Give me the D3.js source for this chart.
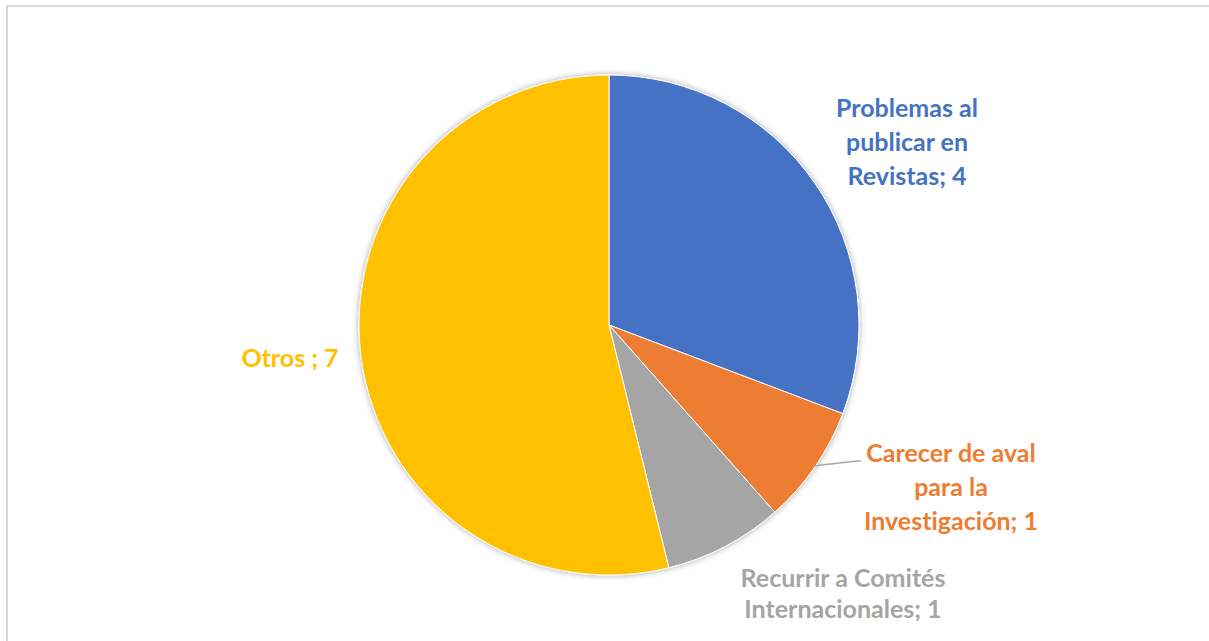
<!DOCTYPE html>
<html><head><meta charset="utf-8">
<script src="https://cdn.jsdelivr.net/npm/d3@7"></script>
<style>body{margin:0;background:#fff;} svg{display:block;} text{font-variant-ligatures:none;}</style>
</head><body>
<svg id="c" width="1209" height="641"></svg>
<script>
const categories = ["Problemas al publicar en Revistas", "Carecer de aval para la Investigación", "Recurrir a Comités Internacionales", "Otros "];
const values = [4, 1, 1, 7];
const colors = ["#4472C4", "#ED7D31", "#A5A5A5", "#FFC000"];
const labelLines = [
  ["Problemas al", "publicar en", "Revistas; 4"],
  ["Carecer de aval", "para la", "Investigación; 1"],
  ["Recurrir a Comités", "Internacionales; 1"],
  ["Otros ; 7"]
];
const labelPos = [[907, 108, 34], [951, 453, 34], [843, 578, 31], [290, 358, 34]];

const svg = d3.select("#c");
const defs = svg.append("defs");
const f = defs.append("filter").attr("id","sh").attr("x","-20%").attr("y","-20%").attr("width","140%").attr("height","140%");
f.append("feGaussianBlur").attr("in","SourceAlpha").attr("stdDeviation",3).attr("result","b");
f.append("feOffset").attr("in","b").attr("dx",0).attr("dy",0).attr("result","o");
f.append("feComponentTransfer").attr("in","o").attr("result","o2").append("feFuncA").attr("type","linear").attr("slope",0.35);
const m = f.append("feMerge"); m.append("feMergeNode").attr("in","o2"); m.append("feMergeNode").attr("in","SourceGraphic");

// chart border
svg.append("path").attr("d","M7,1000 L7,6 L1300,6").attr("fill","none").attr("stroke","#d9d9d9").attr("stroke-width",2);

const cx = 609, cy = 325, r = 250;
const pie = d3.pie().sort(null).value(d => d)(values);
const arc = d3.arc().innerRadius(0).outerRadius(r);
const g = svg.append("g").attr("transform", `translate(${cx},${cy})`).attr("filter","url(#sh)");
g.selectAll("path").data(pie).join("path")
  .attr("d", arc).attr("fill", (d,i) => colors[i])
  .attr("stroke", "#fff").attr("stroke-width", 1);

// leader line for orange slice
const oa = (pie[1].startAngle + pie[1].endAngle)/2;
const p0 = [cx + (r-2)*Math.sin(oa), cy - (r-2)*Math.cos(oa)];
svg.append("polyline").attr("points", `${p0[0]},${p0[1]} ${p0[0]+44},${p0[1]-5} ${p0[0]+48},${p0[1]-5}`)
  .attr("fill","none").attr("stroke","#a6a6a6").attr("stroke-width",1.5);

labelLines.forEach((lines, i) => {
  const [x, y, lh] = labelPos[i];
  const t = svg.append("text").attr("text-anchor","middle")
    .attr("font-family","Lato, 'Open Sans', sans-serif").attr("font-weight","bold")
    .attr("font-size", 25).attr("fill", colors[i]);
  lines.forEach((ln, j) => {
    t.append("tspan").attr("x", x).attr("y", y + j*lh).attr("dy","0.35em").text(ln);
  });
});
</script>
</body></html>
